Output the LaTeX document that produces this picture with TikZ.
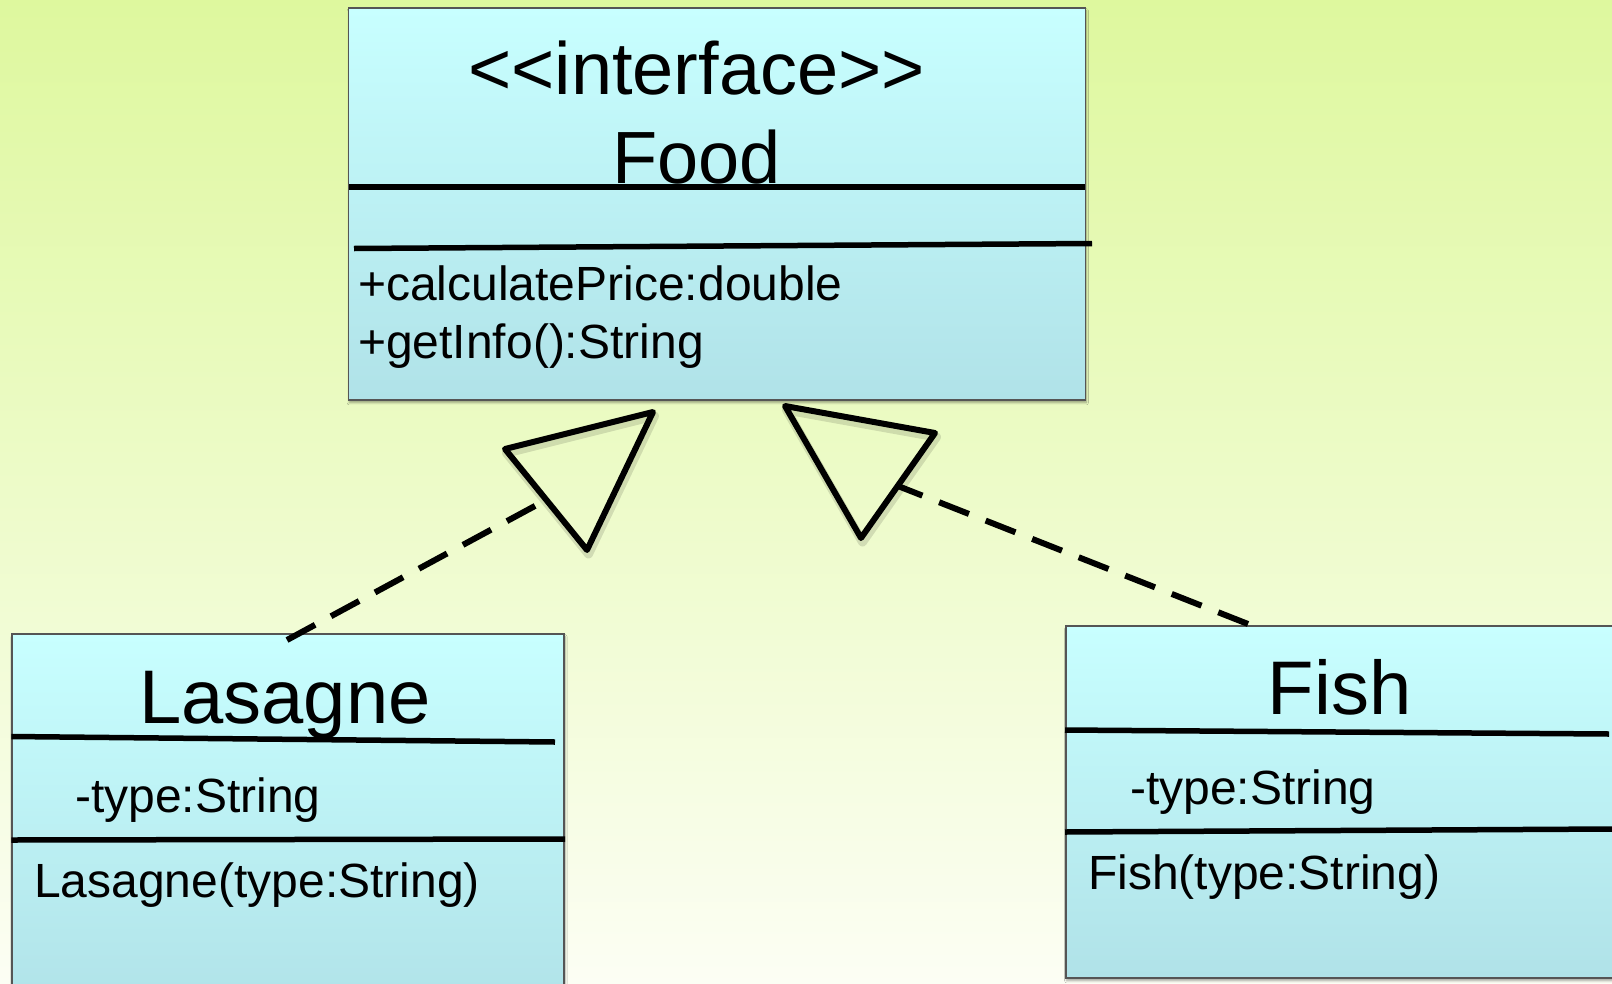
\documentclass[tikz,border=0pt]{standalone}
\usepackage{fontspec}
\setmainfont{Liberation Sans}
\usetikzlibrary{shadows.blur}
\definecolor{bgtop}{RGB}{222,248,158}
\definecolor{bgbot}{RGB}{252,254,244}
\definecolor{boxtop}{RGB}{200,255,255}
\definecolor{boxbot}{RGB}{176,226,232}
\definecolor{boxedge}{RGB}{85,85,85}
\begin{document}
\begin{tikzpicture}[x=1pt,y=-1pt,
  classbox/.style={draw=boxedge, line width=1.5pt, top color=boxtop, bottom color=boxbot,
    inner sep=0pt, anchor=north west,
    blur shadow={shadow xshift=1pt, shadow yshift=-3pt, shadow blur steps=6, shadow opacity=35}},
  divider/.style={line width=5.5pt, black},
  title/.style={font=\fontsize{74}{80}\selectfont, anchor=base, inner sep=0pt},
  classname/.style={font=\fontsize{76}{82}\selectfont, anchor=base, inner sep=0pt},
  member/.style={font=\fontsize{48}{54}\selectfont, anchor=base west, inner sep=0pt},
  opentri/.style={line width=6pt, black, line join=round},
  trishadow/.style={line width=9pt, black, opacity=0.12, line join=round, shift={(1.5,4)}},
  realize/.style={line width=6pt, black, dash pattern=on 32pt off 18pt}]

% background
\useasboundingbox (0,0) rectangle (1612,983);
\shade[top color=bgtop, bottom color=bgbot] (0,0) rectangle (1612,983);

% interface Food
\node[classbox, minimum width=737pt, minimum height=392pt] (food) at (347.5,7) {};
\draw[divider] (349,187) -- (1085,187);
\draw[divider] (354,248.5) -- (1092,243.5);
\node[title] (foodstereo) at (696.5,94.5) {{<}{<}interface{>}{>}};
\node[title] (foodname) at (696.5,183) {Food};
\node[member] (foodm1) at (358,300) {+calculatePrice:double};
\node[member] (foodm2) at (358,358) {+getInfo():String};

% class Lasagne
\node[classbox, minimum width=552pt, minimum height=380pt] (lasagne) at (11.3,633) {};
\draw[divider] (11.3,736.5) -- (555,742);
\draw[divider] (11.3,840) -- (565,839);
\node[classname] (lasname) at (285,723) {Lasagne};
\node[member] (lasattr) at (75,812) {-type:String};
\node[member] (lasctor) at (34,897) {Lasagne(type:String)};

% class Fish
\node[classbox, minimum width=560pt, minimum height=352pt] (fish) at (1065,625) {};
\draw[divider] (1065,730) -- (1609,734);
\draw[divider] (1065,832) -- (1612,829);
\node[classname] (fishname) at (1339.5,714.5) {Fish};
\node[member] (fishattr) at (1130,804) {-type:String};
\node[member] (fishctor) at (1088,889) {Fish(type:String)};

% realization arrows: dashed lines ending on open triangles
\coordinate (lasfoot) at (287,640);
\coordinate (lasbase) at (546,500);
\coordinate (fishfoot) at (1248,624);
\coordinate (fishbase) at (898,486);
\draw[realize] (lasfoot) -- (lasbase);
\draw[realize] (fishfoot) -- (fishbase);
\draw[trishadow] (653,412) -- (505,449) -- (587,550) -- cycle;
\draw[trishadow] (785,406) -- (935,433) -- (861,538) -- cycle;
\draw[opentri] (653,412) -- (505,449) -- (587,550) -- cycle;
\draw[opentri] (785,406) -- (935,433) -- (861,538) -- cycle;
\end{tikzpicture}
\end{document}
